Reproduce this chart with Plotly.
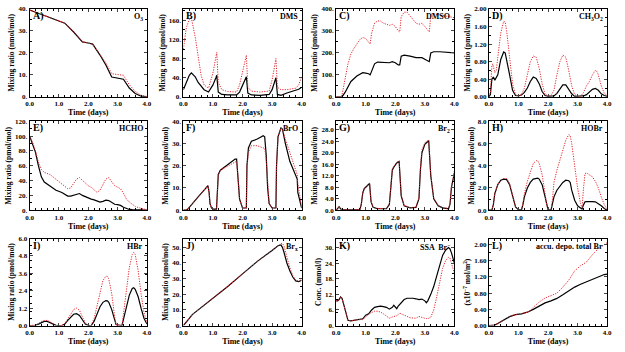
import plotly.graph_objects as go
from plotly.subplots import make_subplots

# ---------------- data ----------------
# A) O3 (nmol/mol)
a_t_k = [0, 0.5, 1.0, 1.2, 1.5, 1.8, 2.0, 2.15, 2.4, 2.6, 2.8, 3.0, 3.2, 3.4, 3.6, 3.8, 4.0]
a_k = [39.5, 37, 34.5, 33.5, 29.5, 25, 24.5, 24, 19, 14.5, 9, 8.5, 8, 4, 1.5, 0.3, 0]
a_r = [39.5, 37, 34.5, 33.5, 29.5, 25, 24.5, 24, 19.3, 15.5, 10.5, 10.3, 9.8, 5.5, 2.5, 0.7, 0.2]

# B) DMS
b_t = [0, 0.1, 0.2, 0.27, 0.4, 0.5, 0.6, 0.7, 0.85, 1.0, 1.1, 1.13, 1.18, 1.3, 1.5, 1.8, 1.9, 2.0, 2.1, 2.13, 2.18, 2.3, 2.6, 2.9, 3.0, 3.1, 3.13, 3.18, 3.3, 3.5, 3.8, 3.9, 4.0]
b_k = [15, 30, 45, 50, 42, 30, 22, 15, 10, 25, 40, 45, 10, 5, 4, 4, 10, 25, 38, 42, 8, 4, 3, 5, 15, 35, 40, 5, 3, 8, 13, 16, 20]
b_r = [100, 145, 162, 165, 125, 80, 45, 25, 18, 50, 85, 93, 30, 15, 11, 10, 25, 55, 82, 87, 20, 12, 10, 12, 35, 75, 80, 20, 15, 15, 18, 25, 42]

# C) DMSO
c_t_k = [0, 0.2, 0.3, 0.5, 0.7, 0.9, 1.0, 1.1, 1.15, 1.3, 1.4, 1.6, 1.8, 1.9, 2.0, 2.1, 2.15, 2.2, 2.3, 2.5, 2.7, 2.9, 3.0, 3.15, 3.2, 3.3, 3.5, 3.8, 4.0]
c_k = [0, 0, 20, 70, 95, 110, 108, 105, 100, 150, 158, 155, 155, 160, 155, 145, 145, 185, 190, 185, 178, 178, 170, 160, 200, 205, 205, 203, 200]
c_t_r = [0, 0.15, 0.2, 0.3, 0.4, 0.5, 0.6, 0.8, 0.9, 1.0, 1.1, 1.15, 1.2, 1.3, 1.4, 1.5, 1.6, 1.8, 1.9, 2.0, 2.1, 2.15, 2.2, 2.3, 2.4, 2.5, 2.7, 2.8, 2.9, 3.0, 3.1, 3.15, 3.2, 3.25, 3.4, 3.6, 3.8, 4.0]
c_r = [0, 0, 10, 80, 150, 195, 220, 260, 270, 265, 245, 240, 290, 335, 345, 345, 335, 325, 330, 320, 300, 295, 365, 385, 385, 370, 335, 330, 335, 320, 305, 295, 370, 380, 375, 370, 365, 360]

# D) CH3O2
d_t_k = [0, 0.05, 0.1, 0.15, 0.2, 0.3, 0.4, 0.5, 0.55, 0.6, 0.7, 0.8, 0.9, 1.0, 1.1, 1.2, 1.3, 1.4, 1.5, 1.6, 1.7, 1.8, 1.9, 2.0, 2.2, 2.3, 2.4, 2.5, 2.6, 2.7, 2.8, 2.9, 3.2, 3.3, 3.4, 3.5, 3.6, 3.7, 3.8, 3.9, 4.0]
d_k = [0, 0.05, 0.4, 0.45, 0.38, 0.5, 0.85, 1.02, 1.0, 0.85, 0.5, 0.15, 0.03, 0.02, 0.04, 0.1, 0.2, 0.35, 0.45, 0.42, 0.3, 0.12, 0.03, 0.01, 0.02, 0.08, 0.18, 0.27, 0.27, 0.18, 0.07, 0.01, 0.02, 0.05, 0.1, 0.17, 0.19, 0.15, 0.07, 0.03, 0.01]
d_t_r = [0, 0.05, 0.1, 0.13, 0.2, 0.25, 0.3, 0.4, 0.5, 0.55, 0.6, 0.7, 0.8, 0.9, 1.0, 1.1, 1.2, 1.3, 1.4, 1.5, 1.6, 1.7, 1.8, 1.9, 2.0, 2.1, 2.2, 2.3, 2.4, 2.5, 2.6, 2.7, 2.8, 2.9, 3.0, 3.1, 3.2, 3.3, 3.4, 3.5, 3.6, 3.65, 3.7, 3.8, 3.9, 4.0]
d_r = [0, 0.1, 0.7, 0.75, 0.55, 0.6, 0.9, 1.45, 1.72, 1.7, 1.5, 0.9, 0.3, 0.05, 0.02, 0.05, 0.2, 0.5, 0.8, 0.93, 0.9, 0.65, 0.3, 0.06, 0.02, 0.03, 0.15, 0.5, 0.8, 0.95, 0.9, 0.6, 0.25, 0.05, 0.01, 0.01, 0.1, 0.25, 0.35, 0.5, 0.6, 0.58, 0.5, 0.25, 0.08, 0.03]

# E) HCHO
e_t = [0, 0.1, 0.2, 0.3, 0.4, 0.5, 0.7, 0.9, 1.1, 1.2, 1.3, 1.4, 1.5, 1.6, 1.7, 1.8, 1.9, 2.0, 2.1, 2.2, 2.3, 2.4, 2.5, 2.6, 2.7, 2.8, 2.9, 3.0, 3.1, 3.2, 3.3, 3.4, 3.5, 3.6, 3.8, 4.0]
e_k = [100, 90, 78, 60, 45, 38, 32, 27, 24, 21, 19, 19, 20, 22, 22.5, 20, 18, 16, 15, 14, 12, 11, 12, 13.5, 13, 10, 8, 7.5, 6.5, 4, 2, 1, 0.7, 0.5, 0.3, 0]
e_r = [100, 92, 80, 65, 55, 51, 48, 42, 36, 33, 29, 30, 36, 42, 44, 40, 36, 33, 31, 27, 24, 27, 35, 42, 44, 38, 33, 31, 29, 23, 15, 11, 8, 5, 2.5, 0.5]

# F) BrO
f_t = [0, 0.1, 0.15, 0.3, 0.5, 0.7, 0.8, 0.83, 0.87, 0.9, 0.95, 1.0, 1.12, 1.15, 1.18, 1.25, 1.4, 1.6, 1.75, 1.8, 1.85, 1.9, 2.0, 2.13, 2.15, 2.2, 2.3, 2.5, 2.7, 2.75, 2.8, 2.85, 2.9, 3.0, 3.13, 3.15, 3.2, 3.3, 3.35, 3.45, 3.6, 3.75, 3.85, 3.87, 3.9, 3.95, 4.0]
f_k = [0, 0, 0.5, 3, 6, 9, 10.5, 11, 8, 3, 1, 0.5, 0.5, 10, 16, 18, 19.5, 21.5, 23, 23, 15, 5, 1, 1, 20, 28, 31, 32, 33.5, 33, 25, 10, 3, 1, 1, 20, 33, 37, 36.5, 30, 22, 17, 14, 8, 6, 3, 1]
f_r = [0, 0, 0.5, 3, 6, 9, 10.5, 11, 8, 3, 1, 0.5, 0.5, 10, 16, 18, 19, 20.5, 21.5, 22, 15, 5, 1, 1, 19, 26, 29, 29, 28, 28, 23, 10, 3, 1, 1, 20, 33, 37, 36.5, 32, 26, 20, 16, 12, 9, 5, 1.5]

# G) Br2
g_t = [0, 0.05, 0.1, 0.15, 0.2, 0.8, 0.85, 0.9, 0.95, 1.0, 1.1, 1.13, 1.18, 1.25, 1.4, 1.7, 1.8, 1.85, 1.9, 1.95, 2.05, 2.13, 2.2, 2.3, 2.5, 2.7, 2.8, 2.85, 2.9, 3.0, 3.1, 3.13, 3.2, 3.3, 3.45, 3.6, 3.8, 3.85, 3.9, 3.95, 4.0]
g_k = [0, 0.5, 1.2, 0.5, 0.1, 0.1, 2, 6, 7.5, 8, 9, 9.3, 3, 1, 0.5, 0.5, 2, 8, 14, 15, 16.5, 17, 5, 1.5, 0.8, 1, 4, 14, 20, 23, 24, 24.2, 12, 4, 1.5, 0.8, 0.5, 2, 8, 10, 13]
g_r = [0, 0.5, 1.2, 0.5, 0.1, 0.1, 2, 6, 7.6, 8.2, 9.1, 9.4, 3.2, 1.1, 0.6, 0.6, 2.2, 8.3, 14.2, 15.3, 16.7, 17.2, 5.3, 1.7, 0.9, 1.1, 4.3, 14.5, 21, 23.5, 24.3, 24.5, 12.5, 4.3, 1.7, 0.9, 0.6, 2.3, 8.5, 10.5, 14]

# H) HOBr
h_t = [0, 0.1, 0.15, 0.2, 0.3, 0.4, 0.5, 0.6, 0.7, 0.8, 0.9, 1.0, 1.1, 1.15, 1.2, 1.3, 1.4, 1.5, 1.6, 1.65, 1.7, 1.8, 1.9, 1.95, 2.0, 2.1, 2.15, 2.2, 2.3, 2.4, 2.5, 2.6, 2.7, 2.75, 2.8, 2.9, 3.0, 3.1, 3.15, 3.2, 3.25, 3.3, 3.4, 3.5, 3.6, 3.7, 3.8, 3.9, 4.0]
h_k = [0, 0, 0.5, 1.5, 2.3, 2.7, 2.8, 2.75, 2.3, 1.3, 0.3, 0.05, 0, 0.5, 1.2, 2.0, 2.5, 2.8, 2.9, 2.88, 2.8, 2.3, 1.2, 0.5, 0.05, 0, 0.6, 1.2, 1.8, 2.2, 2.5, 2.7, 2.65, 2.5, 1.8, 0.9, 0.4, 0.2, 0.1, 0.5, 0.75, 0.78, 0.8, 0.78, 0.75, 0.6, 0.4, 0.15, 0]
h_r = [0, 0, 0.5, 1.5, 2.3, 2.7, 2.85, 2.85, 2.4, 1.4, 0.3, 0.05, 0, 0.6, 1.5, 2.6, 3.5, 4.2, 4.45, 4.45, 4.2, 3.2, 1.5, 0.5, 0.1, 0, 1.0, 2.5, 3.6, 4.5, 5.5, 6.3, 6.8, 6.7, 6.0, 4.0, 2.0, 0.6, 0.2, 2.0, 3.3, 3.35, 3.2, 3.0, 2.6, 2.0, 1.2, 0.5, 0.1]

# I) HBr
i_t = [0, 0.2, 0.3, 0.4, 0.5, 0.6, 0.7, 0.8, 0.9, 1.1, 1.2, 1.3, 1.4, 1.5, 1.6, 1.7, 1.8, 1.9, 2.0, 2.1, 2.2, 2.3, 2.4, 2.5, 2.6, 2.65, 2.7, 2.8, 2.9, 2.95, 3.15, 3.2, 3.3, 3.4, 3.5, 3.55, 3.6, 3.7, 3.8, 3.9, 4.0]
i_k = [0, 0.02, 0.1, 0.22, 0.28, 0.28, 0.2, 0.08, 0.01, 0, 0.1, 0.35, 0.6, 0.78, 0.82, 0.7, 0.4, 0.1, 0.01, 0, 0.3, 0.8, 1.3, 1.6, 1.72, 1.7, 1.6, 1.1, 0.35, 0.05, 0, 0.4, 1.3, 2.1, 2.55, 2.6, 2.5, 2.0, 1.2, 0.5, 0.1]
i_r = [0, 0.03, 0.13, 0.28, 0.35, 0.35, 0.25, 0.1, 0.01, 0, 0.13, 0.45, 0.8, 1.1, 1.2, 1.05, 0.6, 0.15, 0.01, 0, 0.5, 1.3, 2.3, 3.1, 3.4, 3.4, 3.2, 2.2, 0.6, 0.05, 0, 0.8, 2.5, 4.0, 4.9, 5.05, 4.9, 3.8, 2.2, 0.9, 0.2]

# J) Brx
j_t = [0, 0.1, 0.2, 0.3, 0.4, 0.5, 1.0, 1.5, 2.0, 2.5, 3.0, 3.2, 3.3, 3.35, 3.4, 3.5, 3.6, 3.7, 3.8, 3.9, 4.0]
j_k = [0, 2, 4.5, 7, 8.5, 10, 17, 25, 33, 41, 48, 51, 51.5, 50, 47, 40, 35, 31, 28.5, 28, 29]
j_r = [0, 2, 4.5, 7, 8.5, 10, 17, 25, 33, 41, 48, 51, 52.3, 52.5, 51, 44, 37, 32, 29, 28.5, 29.5]

# K) SSA Br-
k_t = [0, 0.05, 0.1, 0.15, 0.2, 0.3, 0.4, 0.5, 0.7, 0.9, 1.0, 1.1, 1.2, 1.3, 1.4, 1.5, 1.6, 1.7, 1.8, 1.9, 1.95, 2.0, 2.05, 2.1, 2.15, 2.2, 2.3, 2.4, 2.5, 2.6, 2.7, 2.8, 2.9, 3.0, 3.05, 3.1, 3.2, 3.3, 3.4, 3.5, 3.6, 3.7, 3.8, 3.85, 3.9, 4.0]
k_k = [9.5, 9.5, 10, 11, 10.5, 6, 2, 1.8, 2.2, 2.6, 4, 4.5, 6, 7, 7.3, 7.5, 7.3, 7, 6.3, 7, 7.8, 7, 6.5, 7.5, 8.2, 9, 10, 10.5, 10.6, 10.5, 10.3, 10, 10.2, 9.5, 8.8, 9.5, 12, 15, 19, 23, 27, 29, 30, 29.5, 28, 24]
k_r = [9.5, 9.5, 10, 11, 10.5, 6, 2, 1.8, 2.2, 2.3, 3.5, 4.3, 5, 5.5, 5.5, 5.2, 4.5, 3.5, 2.8, 3.3, 3.4, 3.5, 3.8, 4.2, 4.8, 4.5, 4, 3.5, 3, 2.9, 2.8, 3.5, 3, 2.8, 2.7, 2.6, 3.2, 6, 11, 16, 22, 25, 26.3, 26, 24, 20]

# L) accumulated deposition of total Br (x1e-7 mol/m2)
l_t = [0, 0.2, 0.3, 0.5, 0.7, 0.9, 1.1, 1.3, 1.4, 1.5, 1.7, 1.9, 2.1, 2.3, 2.5, 2.7, 2.9, 3.1, 3.3, 3.5, 3.7, 3.9, 4.0]
l_k = [0, 0.01, 0.05, 0.14, 0.22, 0.27, 0.29, 0.33, 0.36, 0.4, 0.48, 0.56, 0.61, 0.67, 0.76, 0.86, 0.95, 1.02, 1.08, 1.15, 1.21, 1.26, 1.27]
l_r = [0, 0.01, 0.05, 0.14, 0.22, 0.27, 0.29, 0.33, 0.37, 0.45, 0.58, 0.68, 0.74, 0.8, 0.95, 1.12, 1.35, 1.48, 1.57, 1.75, 1.9, 2.0, 2.05]

x_ticks = [0, 1, 2, 3, 4]
x_ticktext = ["0.0", "1.0", "2.0", "3.0", "4.0"]

panels = [
    dict(tag="A)", name="O<sub>3</sub>", tk=a_t_k, k=a_k, tr=a_t_k, r=a_r, ymax=40,
         yt=[0, 10, 20, 30, 40], ytt=["0.", "10.", "20.", "30.", "40."], ylab="Mixing ratio (nmol/mol)"),
    dict(tag="B)", name="DMS", tk=b_t, k=b_k, tr=b_t, r=b_r, ymax=184,
         yt=[0, 40, 80, 120, 160], ytt=["0.", "40.", "80.", "120.", "160."], ylab="Mixing ratio (pmol/mol)"),
    dict(tag="C)", name="DMSO", tk=c_t_k, k=c_k, tr=c_t_r, r=c_r, ymax=400,
         yt=[0, 100, 200, 300, 400], ytt=["0.", "100.", "200.", "300.", "400."], ylab="Mixing ratio (pmol/mol)"),
    dict(tag="D)", name="CH<sub>3</sub>O<sub>2</sub>", tk=d_t_k, k=d_k, tr=d_t_r, r=d_r, ymax=2.0,
         yt=[0, 0.4, 0.8, 1.2, 1.6, 2.0], ytt=["0.00", "0.40", "0.80", "1.20", "1.60", "2.00"], ylab="Mixing ratio (pmol/mol)"),
    dict(tag="E)", name="HCHO", tk=e_t, k=e_k, tr=e_t, r=e_r, ymax=120,
         yt=[0, 20, 40, 60, 80, 100, 120], ytt=["0.", "20.", "40.", "60.", "80.", "100.", "120."], ylab="Mixing ratio (pmol/mol)"),
    dict(tag="F)", name="BrO", tk=f_t, k=f_k, tr=f_t, r=f_r, ymax=40,
         yt=[0, 10, 20, 30, 40], ytt=["0.", "10.", "20.", "30.", "40."], ylab="Mixing ratio (pmol/mol)"),
    dict(tag="G)", name="Br<sub>2</sub>", tk=g_t, k=g_k, tr=g_t, r=g_r, ymax=31,
         yt=[0, 4, 8, 12, 16, 20, 24, 28], ytt=["0.0", "4.0", "8.0", "12.0", "16.0", "20.0", "24.0", "28.0"], ylab="Mixing ratio (pmol/mol)"),
    dict(tag="H)", name="HOBr", tk=h_t, k=h_k, tr=h_t, r=h_r, ymax=8,
         yt=[0, 2, 4, 6, 8], ytt=["0.0", "2.0", "4.0", "6.0", "8.0"], ylab="Mixing ratio (pmol/mol)"),
    dict(tag="I)", name="HBr", tk=i_t, k=i_k, tr=i_t, r=i_r, ymax=6,
         yt=[0, 1.2, 2.4, 3.6, 4.8, 6.0], ytt=["0.0", "1.2", "2.4", "3.6", "4.8", "6.0"], ylab="Mixing ratio (pmol/mol)"),
    dict(tag="J)", name="Br<sub>x</sub>", tk=j_t, k=j_k, tr=j_t, r=j_r, ymax=55.6,
         yt=[0, 10, 20, 30, 40, 50], ytt=["0.", "10.", "20.", "30.", "40.", "50."], ylab="Mixing ratio (pmol/mol)"),
    dict(tag="K)", name="SSA  Br<sup>−</sup>", tk=k_t, k=k_k, tr=k_t, r=k_r, ymax=33.5,
         yt=[0, 6, 12, 18, 24, 30], ytt=["0.", "6.", "12.", "18.", "24.", "30."], ylab="Conc. (mmol/l)"),
    dict(tag="L)", name="accu. depo. total Br", tk=l_t, k=l_k, tr=l_t, r=l_r, ymax=2.15,
         yt=[0, 0.4, 0.8, 1.2, 1.6, 2.0], ytt=["0.00", "0.40", "0.80", "1.20", "1.60", "2.00"], ylab="(x10<sup>−7</sup> mol/m<sup>2</sup>)"),
]

W, H = 625, 352
col_px = [(26, 145), (182, 302), (337, 457), (492, 612)]
row_px = [(5, 95), (120, 211), (240, 329)]

fig = make_subplots(rows=3, cols=4)
FONT = "Liberation Serif"
tickfont = dict(family=FONT, size=7, color="black", weight="bold")

for idx, p in enumerate(panels):
    r, c = idx // 4, idx % 4
    fig.add_trace(go.Scatter(x=p["tk"], y=p["k"], mode="lines", line=dict(color="black", width=1.2),
                             showlegend=False), row=r + 1, col=c + 1)
    fig.add_trace(go.Scatter(x=p["tr"], y=p["r"], mode="lines",
                             line=dict(color="#e3262e", width=1.0, dash="1.2px,1.3px"),
                             showlegend=False), row=r + 1, col=c + 1)
    n = idx + 1
    xa = "xaxis" if n == 1 else f"xaxis{n}"
    ya = "yaxis" if n == 1 else f"yaxis{n}"
    x0, x1 = col_px[c]
    y0, y1 = row_px[r]
    fig.layout[xa].update(domain=[x0 / W, x1 / W], range=[0, 4], tickvals=x_ticks, ticktext=x_ticktext,
                          ticks="inside", ticklen=3, mirror="allticks", showline=True, linecolor="black",
                          linewidth=1, showgrid=False, zeroline=False, tickfont=tickfont,
                          minor=dict(dtick=0.2, ticks="inside", ticklen=2, tickcolor="black"),
                          title=dict(text="Time (days)", font=dict(family=FONT, size=8, color="black", weight="bold"),
                                     standoff=2))
    fig.layout[ya].update(domain=[1 - y1 / H, 1 - y0 / H], range=[0, p["ymax"]], tickvals=p["yt"], ticktext=p["ytt"],
                          ticks="inside", ticklen=3, mirror="allticks", showline=True, linecolor="black",
                          linewidth=1, showgrid=False, zeroline=False, tickfont=tickfont,
                          minor=dict(nticks=3, ticks="inside", ticklen=2, tickcolor="black"),
                          title=dict(text=p["ylab"], font=dict(family=FONT, size=7.5, color="black", weight="bold"),
                                     standoff=2))
    xref = "x" if n == 1 else f"x{n}"
    yref = "y" if n == 1 else f"y{n}"
    fig.add_annotation(text=p["tag"], x=0, y=1, xref=f"{xref} domain", yref=f"{yref} domain",
                       xanchor="left", yanchor="top", showarrow=False, xshift=1, yshift=1,
                       font=dict(family=FONT, size=10, color="black", weight="bold"))
    fig.add_annotation(text=p["name"], x=1, y=1, xref=f"{xref} domain", yref=f"{yref} domain",
                       xanchor="right", yanchor="top", showarrow=False, xshift=-2, yshift=-1,
                       font=dict(family=FONT, size=8, color="black", weight="bold"))

fig.update_layout(width=W, height=H, margin=dict(l=0, r=0, t=0, b=0), plot_bgcolor="white",
                  paper_bgcolor="white", showlegend=False)
fig.write_html("out.html")
